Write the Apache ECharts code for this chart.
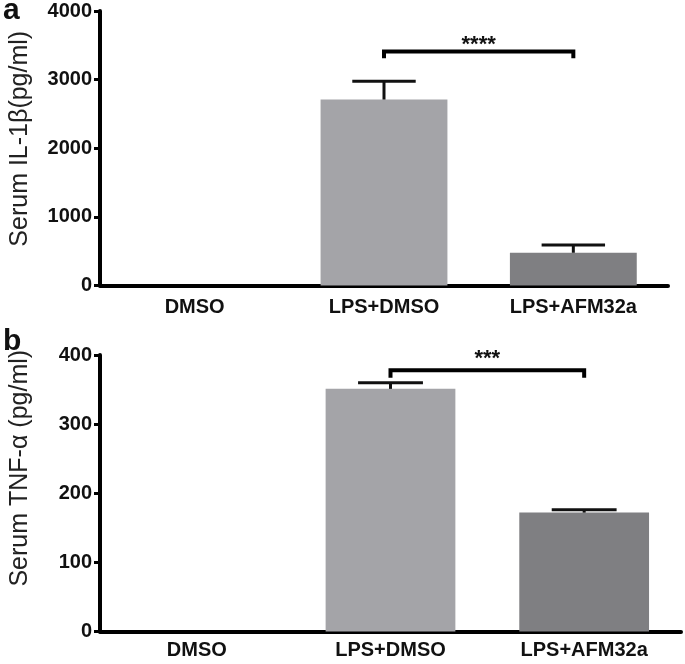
<!DOCTYPE html>
<html>
<head>
<meta charset="utf-8">
<script src="https://cdn.jsdelivr.net/npm/echarts@6/dist/echarts.min.js"></script>
<style>
html, body { margin: 0; padding: 0; background: #fff; }
#chart { width: 685px; height: 664px; }
</style>
</head>
<body>
<div id="chart"></div>
<script>
// groups and measured values (mean, SEM)
const groups = ['DMSO', 'LPS+DMSO', 'LPS+AFM32a'];
const il1bMean = [0, 2710, 477];
const il1bSem = [0, 265, 112];
const tnfMean = [0, 351, 172];
const tnfSem = [0, 9, 4];
const barColors = ['#a4a4a8', '#a4a4a8', '#7f7f82'];
// significance: [from group, to group, bracket value, leg drop, star value]
const il1bSig = [1, 2, 3410, 100, 3504];
const tnfSig = [1, 2, 378, 11, 394];
const il1bStars = '****';
const tnfStars = '***';

const font = '"Liberation Sans", Arial, Helvetica, sans-serif';
const BAR = 0.67;

const chart = echarts.init(document.getElementById('chart'));

// error bar: stem from mean to mean+sem plus cap of half the bar width
const renderErr = (params, api) => {
  const i = api.value(0);
  const m = api.value(1);
  const s = api.value(2);
  if (!s) return null;
  const lo = api.coord([i, m]);
  const hi = api.coord([i, m + s]);
  const half = api.size([1, 0])[0] * BAR / 4;
  const st = { stroke: '#111', lineWidth: 3 };
  return {
    type: 'group',
    children: [
      { type: 'line', shape: { x1: lo[0], y1: lo[1], x2: hi[0], y2: hi[1] }, style: st },
      { type: 'line', shape: { x1: hi[0] - half, y1: hi[1], x2: hi[0] + half, y2: hi[1] }, style: st }
    ]
  };
};

const makeSig = (stars) => (params, api) => {
  const a = api.coord([api.value(0), api.value(2)]);
  const b = api.coord([api.value(1), api.value(2)]);
  const legY = api.coord([api.value(0), api.value(2) - api.value(3)])[1];
  const starY = api.coord([api.value(0), api.value(4)])[1];
  return {
    type: 'group',
    children: [
      {
        type: 'polyline',
        shape: { points: [[a[0], legY], [a[0], a[1]], [b[0], b[1]], [b[0], legY]] },
        style: { stroke: '#000', lineWidth: 4, fill: null, lineJoin: 'miter' }
      },
      {
        type: 'text',
        style: {
          x: (a[0] + b[0]) / 2, y: starY, text: stars,
          align: 'center', verticalAlign: 'middle',
          font: 'bold 22px ' + font, fill: '#111'
        }
      }
    ]
  };
};

const xAxisBase = (gridIndex, margin) => ({
  type: 'category',
  gridIndex,
  data: groups,
  axisLine: { lineStyle: { color: '#000', width: 4 } },
  axisTick: { alignWithLabel: true, length: 6, lineStyle: { color: '#000', width: 3 } },
  axisLabel: { color: '#111', fontSize: 20, fontWeight: 'bold', fontFamily: font, margin }
});

const yAxisBase = (gridIndex, max, interval, name, pad) => ({
  type: 'value',
  gridIndex,
  min: 0,
  max,
  interval,
  name,
  nameLocation: 'middle',
  nameGap: 67,
  nameTextStyle: { fontSize: 25, color: '#222', fontFamily: font, padding: [0, 0, 0, pad] },
  splitLine: { show: false },
  axisLine: { show: true, lineStyle: { color: '#000', width: 4 } },
  axisTick: { show: true, length: 6, lineStyle: { color: '#000', width: 3 } },
  axisLabel: {
    color: '#111', fontSize: 20, fontWeight: 'bold', fontFamily: font, margin: 8,
    formatter: (v) => String(v)
  }
});

const barData = (vals) => vals.map((v, i) => ({ value: v, itemStyle: { color: barColors[i] } }));
const errData = (mean, sem) => groups.map((g, i) => [i, mean[i], sem[i]]);

chart.setOption({
  animation: false,
  backgroundColor: '#fff',
  textStyle: { fontFamily: font },
  grid: [
    { left: 92, top: 11, width: 576, height: 274.5 },
    { left: 92, top: 355, width: 589, height: 276.5 }
  ],
  xAxis: [xAxisBase(0, 12), xAxisBase(1, 9)],
  yAxis: [
    yAxisBase(0, 4000, 1000, 'Serum IL-1β(pg/ml)', 19),
    yAxisBase(1, 400, 100, 'Serum TNF-α (pg/ml)', 50)
  ],
  graphic: [
    { type: 'text', left: 3, top: -4, style: { text: 'a', font: 'bold 30px ' + font, fill: '#111' } },
    { type: 'text', left: 3, top: 327, style: { text: 'b', font: 'bold 30px ' + font, fill: '#111' } }
  ],
  series: [
    { type: 'bar', xAxisIndex: 0, yAxisIndex: 0, barWidth: '67%', data: barData(il1bMean) },
    { type: 'custom', xAxisIndex: 0, yAxisIndex: 0, renderItem: renderErr, encode: { x: 0, y: 1 }, data: errData(il1bMean, il1bSem), z: 5 },
    { type: 'custom', xAxisIndex: 0, yAxisIndex: 0, renderItem: makeSig(il1bStars), encode: { x: 0, y: 2 }, data: [il1bSig], z: 5 },
    { type: 'bar', xAxisIndex: 1, yAxisIndex: 1, barWidth: '67%', data: barData(tnfMean) },
    { type: 'custom', xAxisIndex: 1, yAxisIndex: 1, renderItem: renderErr, encode: { x: 0, y: 1 }, data: errData(tnfMean, tnfSem), z: 5 },
    { type: 'custom', xAxisIndex: 1, yAxisIndex: 1, renderItem: makeSig(tnfStars), encode: { x: 0, y: 2 }, data: [tnfSig], z: 5 }
  ]
});
</script>
</body>
</html>
